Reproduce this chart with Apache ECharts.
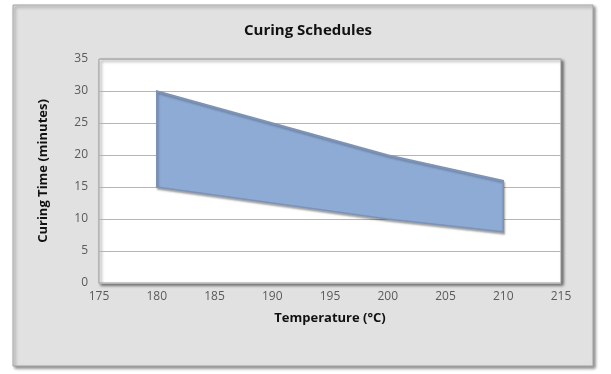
<!DOCTYPE html>
<html><head><meta charset="utf-8">
<script src="https://cdn.jsdelivr.net/npm/echarts@6/dist/echarts.min.js"></script>
<style>html,body{margin:0;padding:0;background:#fff}#c{width:611px;height:374px}</style>
</head><body><div id="c"></div>
<script>
const temperatures = [180, 190, 200, 210];
const maxTime = [30, 25, 20, 16];
const minTime = [15, 12.5, 10, 8];
const xTicks = [175, 215, 5];
const yTicks = [0, 35, 5];

const chart = echarts.init(document.getElementById('c'));
const font = '"Open Sans", "Noto Sans", sans-serif';
chart.setOption({
  animation: false,
  backgroundColor: '#ffffff',
  graphic: [{
    type: 'rect', z: -10, silent: true,
    shape: { x: 13, y: 5, width: 580, height: 361 },
    style: { fill: '#e1e1e1', stroke: '#a6a6a6', lineWidth: 1,
      shadowColor: 'rgba(0,0,0,0.45)', shadowOffsetX: 2, shadowOffsetY: 2, shadowBlur: 3 }
  }],
  title: {
    text: 'Curing Schedules', left: 303, top: 18, textAlign: 'center',
    textStyle: { fontFamily: font, fontSize: 15, fontWeight: 'bold', color: '#111' }
  },
  grid: {
    left: 99, right: 50, top: 59, bottom: 91, show: true,
    backgroundColor: '#ffffff', borderColor: '#9a9a9a', borderWidth: 1,
    shadowColor: 'rgba(0,0,0,0.55)', shadowOffsetX: 2, shadowOffsetY: 2, shadowBlur: 3
  },
  xAxis: {
    type: 'value', min: xTicks[0], max: xTicks[1], interval: xTicks[2],
    name: 'Temperature (°C)', nameLocation: 'middle', nameGap: 29,
    nameTextStyle: { fontFamily: font, fontSize: 13, fontWeight: 'bold', color: '#111' },
    axisLine: { show: false }, axisTick: { show: false },
    axisLabel: { fontFamily: font, fontSize: 12, color: '#5a5a5a', margin: 8 },
    splitLine: { show: false }
  },
  yAxis: {
    type: 'value', min: yTicks[0], max: yTicks[1], interval: yTicks[2],
    name: 'Curing Time (minutes)', nameLocation: 'middle', nameGap: 49,
    nameTextStyle: { fontFamily: font, fontSize: 13, fontWeight: 'bold', color: '#111' },
    axisLine: { show: false }, axisTick: { show: false },
    axisLabel: { fontFamily: font, fontSize: 12, color: '#5a5a5a', margin: 11 },
    splitLine: { show: true, lineStyle: { color: '#b5b5b5', width: 1 } }
  },
  series: [{
    type: 'custom',
    data: [[temperatures[0], maxTime[0]]],
    renderItem: function (params, api) {
      const pts = [];
      for (let i = 0; i < temperatures.length; i++) pts.push(api.coord([temperatures[i], maxTime[i]]));
      for (let i = temperatures.length - 1; i >= 0; i--) pts.push(api.coord([temperatures[i], minTime[i]]));
      return {
        type: 'polygon',
        shape: { points: pts },
        style: {
          fill: '#8eabd5', stroke: '#7d93b5', lineWidth: 1.5,
          shadowColor: 'rgba(0,0,0,0.3)', shadowOffsetX: 1, shadowOffsetY: 2, shadowBlur: 2
        }
      };
    }
  }]
});
</script></body></html>
